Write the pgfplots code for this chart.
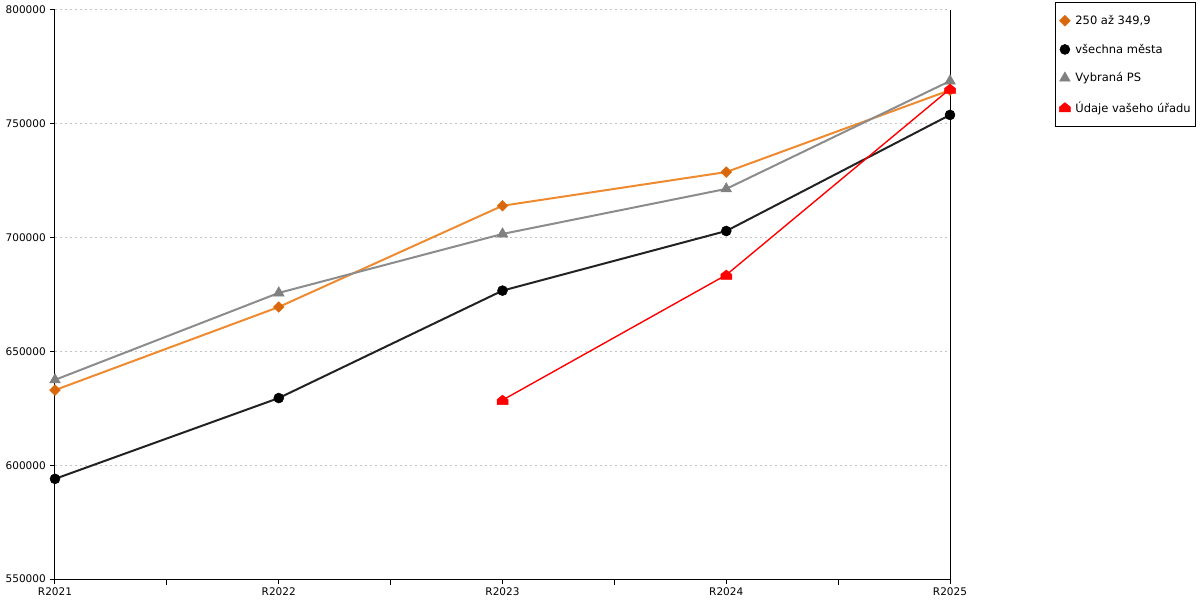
\documentclass[border=0pt]{standalone}
\usepackage{fontspec}
\setmainfont{DejaVu Sans}
\usepackage{pgfplots}
\pgfplotsset{compat=1.18}
\definecolor{orl}{HTML}{EE8A30}
\definecolor{orm}{HTML}{D9680C}
\definecolor{gry}{HTML}{8C8C8C}
\definecolor{grm}{HTML}{808080}
\definecolor{blk}{HTML}{222222}
\definecolor{gridc}{HTML}{C4C4C4}
\pgfdeclareplotmark{house}{%
 \pgfpathmoveto{\pgfqpoint{-\pgfplotmarksize}{-0.8\pgfplotmarksize}}%
 \pgfpathlineto{\pgfqpoint{\pgfplotmarksize}{-0.8\pgfplotmarksize}}%
 \pgfpathlineto{\pgfqpoint{\pgfplotmarksize}{0.1\pgfplotmarksize}}%
 \pgfpathlineto{\pgfqpoint{0pt}{0.9\pgfplotmarksize}}%
 \pgfpathlineto{\pgfqpoint{-\pgfplotmarksize}{0.1\pgfplotmarksize}}%
 \pgfpathclose\pgfusepathqfillstroke}
\begin{document}
\begin{tikzpicture}
\path[use as bounding box] (0pt,0pt) rectangle (1200pt,600pt);
\begin{axis}[
  at={(55pt,21pt)}, anchor=south west, scale only axis,
  width=895pt, height=569pt,
  xmin=0, xmax=4, ymin=550000, ymax=800000,
  axis x line*=bottom, axis y line*=left,
  axis line style={black, line width=1pt},
  tick align=outside,
  xtick={0,1,2,3,4},
  xticklabels={R2021,R2022,R2023,R2024,R2025},
  minor xtick={0.5,1.5,2.5,3.5},
  major tick length=5pt, minor tick length=6pt,
  every tick/.style={black, line width=1pt},
  minor tick style={black, line width=1pt},
  ytick={550000,600000,650000,700000,750000,800000},
  scaled y ticks=false,
  tick label style={font=\fontsize{10.5}{12}\selectfont},
  xticklabel style={inner sep=3.5pt},
  yticklabel style={inner sep=4pt, /pgf/number format/.cd, fixed, 1000 sep={}, assume math mode=true},
  ymajorgrids,
  major grid style={gridc, line width=1pt, dash pattern=on 2pt off 3pt},
  clip=false,
  legend style={at={(1.11732,1.01406)}, anchor=north west, draw=black, line width=0.8pt,
    font=\fontsize{11.5}{13.5}\selectfont, row sep=16pt, inner xsep=4pt, inner ysep=12pt,
    nodes={inner sep=1pt},
    /tikz/every odd column/.append style={column sep=4pt}},
  legend cell align=left,
  legend image code/.code={\draw[#1, only marks] plot coordinates {(0pt,0pt)};},
]
\addplot[orl, line width=2pt, mark=square*, mark size=3.8pt, mark options={rotate=45, fill=orm, draw=orm, line width=0.5pt}]
  coordinates {(0,633000) (1,669500) (2,714000) (3,728800) (4,764800)};
\addlegendentry{250 až 349,9}
\addplot[blk, line width=2pt, mark=*, mark size=5pt, mark options={fill=black, draw=black, line width=0.5pt}]
  coordinates {(0,594000) (1,629500) (2,676700) (3,702900) (4,753900)};
\addlegendentry{všechna města}
\addplot[gry, line width=2pt, mark=triangle*, mark size=6.2pt, mark options={fill=grm, draw=grm, line width=0.5pt}]
  coordinates {(0,637500) (1,675700) (2,701600) (3,721400) (4,768800)};
\addlegendentry{Vybraná PS}
\addplot[red, line width=1.4pt, mark=house, mark size=5.5pt, mark options={fill=red, draw=red, line width=0.5pt}]
  coordinates {(2,628600) (3,683600) (4,765300)};
\addlegendentry{Údaje vašeho úřadu}
\draw[black, line width=1pt] (rel axis cs:1,0) -- (rel axis cs:1,1);
\end{axis}
\end{tikzpicture}
\end{document}
